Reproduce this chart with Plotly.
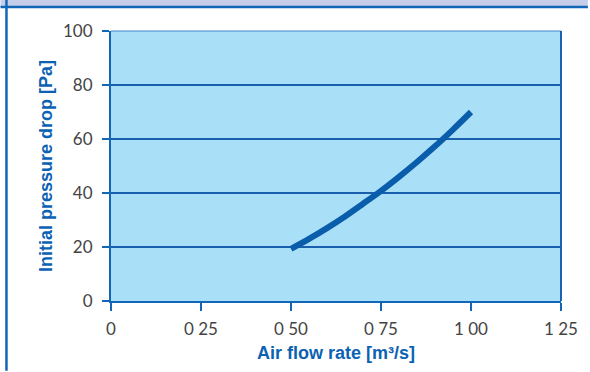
"""Initial pressure drop vs air flow rate."""

import plotly.graph_objects as go

# data
AIR_FLOW = [0.50, 0.55, 0.60, 0.65, 0.70, 0.75, 0.80, 0.85, 0.90, 0.95, 1.00]
PRESSURE_DROP = [19.3, 23.0, 27.0, 31.3, 36.0, 40.8, 46.0, 51.5, 57.3, 63.5, 70.0]

X_TICKS = [0, 0.25, 0.50, 0.75, 1.00, 1.25]
X_TICK_TEXT = ["0", "0 25", "0 50", "0 75", "1 00", "1 25"]
Y_TICKS = [0, 20, 40, 60, 80, 100]

W, H = 590, 372
M_L, M_R, M_T, M_B = 111, 27, 31, 70
BLUE = "#0b62b3"
FRAME = "#1266b8"


def px_x(px):
    return (px - M_L) / (W - M_L - M_R)


def px_y(px):
    return 1 - (px - M_T) / (H - M_T - M_B)


fig = go.Figure()
fig.add_trace(
    go.Scatter(
        x=AIR_FLOW,
        y=PRESSURE_DROP,
        mode="lines",
        line={"color": "#0a5daa", "width": 6, "shape": "spline"},
        showlegend=False,
        hoverinfo="skip",
    )
)

shapes = [
    # header band
    {"type": "rect", "xref": "paper", "yref": "paper",
     "x0": px_x(0), "x1": px_x(W), "y0": px_y(7), "y1": px_y(0),
     "fillcolor": "#c6cee9", "line": {"width": 0}, "layer": "above"},
    {"type": "line", "xref": "paper", "yref": "paper",
     "x0": px_x(0), "x1": px_x(W), "y0": px_y(7), "y1": px_y(7),
     "line": {"color": FRAME, "width": 2.5}},
    # left border
    {"type": "line", "xref": "paper", "yref": "paper",
     "x0": px_x(6), "x1": px_x(6), "y0": px_y(H), "y1": px_y(0),
     "line": {"color": FRAME, "width": 2.5}},
    # plot frame top / right
    {"type": "line", "xref": "paper", "yref": "paper",
     "x0": 0, "x1": 1, "y0": 1, "y1": 1,
     "line": {"color": "#3d86cc", "width": 1.2}},
    {"type": "line", "xref": "paper", "yref": "paper",
     "x0": 1, "x1": 1, "y0": 0, "y1": 1,
     "line": {"color": "#1a62ad", "width": 2}},
]

fig.update_layout(
    width=W,
    height=H,
    margin={"l": M_L, "r": M_R, "t": M_T, "b": M_B},
    paper_bgcolor="white",
    plot_bgcolor="#aadff8",
    shapes=shapes,
    font={"family": "Lato, 'Open Sans', sans-serif", "color": "#444444", "size": 17},
    xaxis={
        "range": [0, 1.25],
        "tickvals": X_TICKS,
        "ticktext": X_TICK_TEXT,
        "showgrid": False,
        "zeroline": False,
        "showline": True,
        "linecolor": FRAME,
        "linewidth": 2,
        "ticks": "outside",
        "ticklen": 8,
        "tickcolor": FRAME,
        "tickwidth": 1.5,
        "ticklabelstandoff": 4,
        "title": {
            "text": "Air flow rate [m³/s]",
            "font": {"family": "'Liberation Sans Narrow', Arial, sans-serif",
                     "size": 18, "color": BLUE, "weight": "bold"},
            "standoff": 8,
        },
    },
    yaxis={
        "range": [0, 100],
        "tickvals": Y_TICKS,
        "showgrid": True,
        "gridcolor": "#1a5fae",
        "gridwidth": 1.5,
        "zeroline": False,
        "showline": True,
        "linecolor": FRAME,
        "linewidth": 2,
        "ticks": "outside",
        "ticklen": 7,
        "tickcolor": FRAME,
        "tickwidth": 1.5,
        "ticklabelstandoff": 6,
        "title": {
            "text": "Initial pressure drop [Pa]",
            "font": {"family": "'Liberation Sans Narrow', Arial, sans-serif",
                     "size": 18, "color": BLUE, "weight": "bold"},
            "standoff": 6,
        },
    },
)

# drop the page's default body margin so the chart sits at the window origin
fig.write_html(
    "out.html",
    config={"displayModeBar": False},
    post_script="document.body.style.margin = '0';",
)
